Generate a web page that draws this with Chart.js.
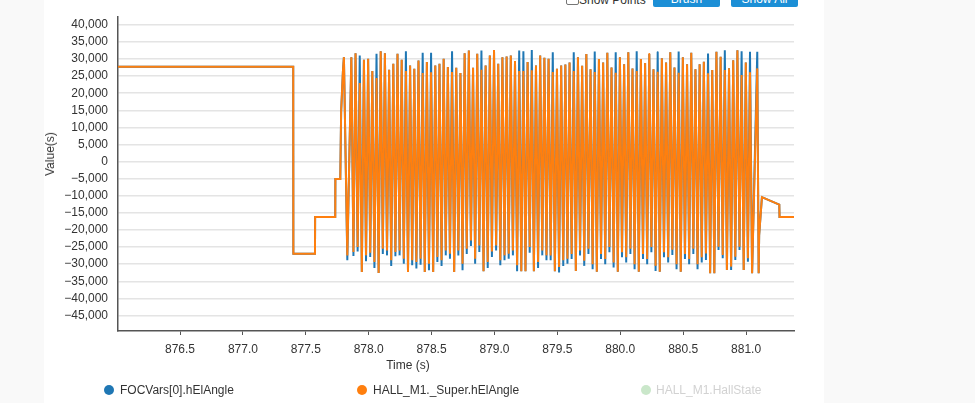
<!DOCTYPE html>
<html>
<head>
<meta charset="utf-8">
<script src="https://cdn.jsdelivr.net/npm/chart.js@4.4.0/dist/chart.umd.min.js"></script>
<style>
html,body{margin:0;padding:0;background:#f9f9f9;width:975px;height:403px;overflow:hidden;font-family:"Liberation Sans",Arial,sans-serif;}
#panel{position:absolute;left:44px;top:0;width:780px;height:403px;background:#fff;}
#chart{position:absolute;left:0;top:0;}
.btn{position:absolute;top:-8px;height:15px;line-height:15px;width:67px;background:#1c8fd6;color:#fff;font-size:12px;text-align:center;border-radius:2px;}
#cb{position:absolute;left:566px;top:-8px;width:11px;height:11px;border:1px solid #767676;border-radius:2px;background:#fff;}
#sp{position:absolute;left:579px;top:-6px;font-size:12px;line-height:12px;color:#333;}
.lg{position:absolute;font-size:12px;line-height:14px;color:#333;white-space:nowrap;}
.dot{position:absolute;width:10px;height:10px;border-radius:50%;}
#xt{position:absolute;font-size:12px;color:#333;left:408px;top:358px;transform:translateX(-50%);white-space:nowrap;}
#yt{position:absolute;font-size:12px;color:#333;left:50px;top:154px;transform:translate(-50%,-50%) rotate(-90deg);white-space:nowrap;}
</style>
</head>
<body>
<div id="panel"></div>
<div id="cb"></div><div id="sp">Show Points</div>
<div class="btn" style="left:653px">Brush</div>
<div class="btn" style="left:731px">Show All</div>
<canvas id="chart" width="975" height="403"></canvas>
<div id="xt">Time (s)</div>
<div id="yt">Value(s)</div>
<div class="dot" style="left:104px;top:385px;background:#1f77b4"></div>
<div class="lg" style="left:120px;top:383px">FOCVars[0].hElAngle</div>
<div class="dot" style="left:357px;top:385px;background:#ff7f0e"></div>
<div class="lg" style="left:373px;top:383px">HALL_M1._Super.hElAngle</div>
<div class="dot" style="left:641px;top:385px;background:#cae7ca"></div>
<div class="lg" style="left:656px;top:383px;color:#d2d2d2">HALL_M1.HallState</div>
<script>
// ---- tick labels ----
const xTicks = [876.5, 877.0, 877.5, 878.0, 878.5, 879.0, 879.5, 880.0, 880.5, 881.0];
const yTicks = [40000, 35000, 30000, 25000, 20000, 15000, 10000, 5000, 0, -5000, -10000, -15000, -20000, -25000, -30000, -35000, -40000, -45000];

// ---- series names ----
const seriesNames = ["FOCVars[0].hElAngle", "HALL_M1._Super.hElAngle", "HALL_M1.HallState"];

// ---- before the burst (both series identical) ----
const preTimes  = [876.000, 877.400, 877.401, 877.573, 877.574, 877.734, 877.735, 877.774, 877.781, 877.795];
const preValues = [27740, 27740, -26960, -26960, -16230, -16230, -5100, -5100, 14700, 26300];

// ---- burst: logger sample clock ----
const burstFirstPeak = 877.803;
const burstFirstTrough = 877.830;
const burstSecondPeak = 877.862;
const burstCycle = 0.03336;

// ---- burst peaks / troughs, read per cycle ----
const focPeaks = [30540,30540,31700,31020,29770,30060,26480,31510,32280,31700,
  26870,28610,31510,29770,32280,28130,27160,29570,31800,29090,
  31800,28130,28610,30060,27640,32280,27450,25900,31700,32470,
  27450,31510,32470,28130,31020,32670,28610,30540,30740,31020,
  29380,32470,32280,29090,32670,28130,31020,30350,30060,31990,
  27160,28130,28420,
  29000,32000,30500,28000,31500,27000,32200,30000,29000,31800,
  27500,32000,30500,28500,32000,27200,32300,30000,28800,31500,
  27000,32000,30200,29000,32000,27500,32200,30500,28500,31800,
  27000,28500,
  29190,31600,26770,32090,30640,32570,27260,29670,32570,32280,28990,32090];
const hallPeaks = [30540,30540,31700,23000,29770,30060,26480,24450,32280,31700,
  26870,28610,31510,29770,26480,28130,27160,29570,25900,29090,
  26100,28130,28610,30060,27640,26190,27450,25900,31700,32470,
  27450,31510,26870,28130,31020,32670,28610,30540,30740,31020,
  29380,26480,26480,29090,26680,28130,31020,30350,30060,26190,
  27160,28130,28420,
  29000,26500,30500,28000,31500,27000,26200,30000,29000,31800,
  27500,26000,30500,28500,32000,27200,26500,30000,28800,31500,
  27000,26300,30200,29000,32000,27500,26000,30500,28500,31800,
  27000,28500,
  29190,25810,26770,32090,30640,26770,27260,29670,32570,25320,28990,26100];
const focTroughs = [-28880,-27620,-26270,-32260,-29170,-27910,-31100,-32550,-27040,-27430,
  -30520,-27720,-27430,-29850,-32260,-30330,-31300,-30140,-32260,-31780,
  -32260,-29360,-30520,-27430,-28400,-32260,-27430,-31780,-27040,-24720,
  -29850,-26460,-32070,-31100,-27910,-25980,-30330,-28880,-28400,-27430,
  -32070,-32070,-32070,-26660,-32070,-31100,-27430,-28880,-28880,-32070,
  -32450,-30520,-29850,
  -28500,-32000,-27500,-30500,-27000,-31500,-32200,-28500,-30000,-26500,
  -31000,-32200,-28000,-29500,-27000,-31500,-32200,-28500,-30000,-26500,
  -32000,-32200,-28000,-29500,-27300,-31500,-32200,-28500,-30000,-27000,
  -31500,-29500,
  -28780,-32650,-32650,-25880,-28300,-31680,-31680,-28780,-25880,-31680,-29270,-32650];
const hallTroughs = [-27430,-26460,-25010,-32260,-27430,-26660,-29360,-32550,-25500,-25980,
  -28880,-26460,-25980,-28400,-32260,-28880,-29360,-28400,-32260,-29850,
  -32260,-27910,-28880,-25980,-26950,-32260,-25980,-29850,-25500,-23080,
  -28400,-24530,-32070,-29360,-26270,-24530,-28880,-27430,-26950,-25980,
  -30330,-32070,-32070,-25010,-32070,-29360,-25980,-27430,-27430,-32070,
  -30810,-28880,-28400,
  -27000,-32000,-26000,-29000,-25500,-30000,-32200,-27000,-28500,-25000,
  -29500,-32200,-26500,-28000,-25500,-30000,-32200,-27000,-28500,-25000,
  -30500,-32200,-26500,-28000,-25800,-30000,-32200,-27000,-28500,-25500,
  -30000,-28000,
  -26850,-32650,-32650,-24920,-27330,-31680,-30720,-27820,-24920,-31680,-28300,-32650];

// ---- after the burst ----
const tailTimes = [881.089, 881.100, 881.104, 881.126, 881.264, 881.266, 881.400];
const focTail   = [32090, -32650, -21500, -10400, -12600, -16230, -16230];
const hallTail  = [27260, -32650, -21500, -10400, -12600, -16230, -16230];

function buildPoints(peaks, troughs, tail) {
  const pts = preTimes.map((t, i) => ({x: t, y: preValues[i]}));
  for (let k = 0; k < peaks.length; k++) {
    const tp = k === 0 ? burstFirstPeak : burstSecondPeak + (k - 1) * burstCycle;
    const tt = k === 0 ? burstFirstTrough : tp + burstCycle / 2;
    pts.push({x: tp, y: peaks[k]});
    pts.push({x: tt, y: troughs[k]});
  }
  tailTimes.forEach((t, i) => pts.push({x: t, y: tail[i]}));
  return pts;
}

function fmtNum(v) {
  const s = Math.abs(v).toLocaleString('en-US');
  return v < 0 ? '\u2212' + s : s;
}

Chart.defaults.font.family = '"Liberation Sans", Arial, sans-serif';
Chart.defaults.font.size = 12;
Chart.defaults.color = '#333';

new Chart(document.getElementById('chart'), {
  type: 'line',
  data: {
    datasets: [
      {label: seriesNames[1], data: buildPoints(hallPeaks, hallTroughs, hallTail), borderColor: '#ff7f0e', borderWidth: 2, pointRadius: 0, order: 0, clip: 0},
      {label: seriesNames[0], data: buildPoints(focPeaks, focTroughs, focTail), borderColor: '#1f77b4', borderWidth: 2, pointRadius: 0, order: 1, clip: 0}
    ]
  },
  options: {
    responsive: false,
    maintainAspectRatio: false,
    animation: false,
    parsing: false,
    layout: {padding: {left: 0, right: 181, top: 15, bottom: 0}},
    plugins: {legend: {display: false}, tooltip: {enabled: false}},
    elements: {line: {tension: 0.000001, capBezierPoints: false, borderJoinStyle: 'miter'}},
    scales: {
      x: {
        type: 'linear', min: 876.007, max: 881.381,
        afterBuildTicks: s => { s.ticks = xTicks.map(v => ({value: v})); },
        afterFit: s => { s.height = 72; },
        ticks: {callback: v => v.toFixed(1), padding: 7, maxRotation: 0, autoSkip: false, color: '#333'},
        grid: {drawOnChartArea: false, drawTicks: true, tickLength: 4, tickColor: '#555'},
        border: {color: '#555', width: 1.5}
      },
      y: {
        type: 'linear', min: -49550, max: 42230,
        afterBuildTicks: s => { s.ticks = yTicks.map(v => ({value: v})); },
        afterFit: s => { s.width = 118; },
        ticks: {callback: v => fmtNum(v), padding: 10, color: '#333'},
        grid: {drawTicks: false, color: '#e4e4e4', lineWidth: 1.5},
        border: {color: '#555', width: 1.5}
      }
    }
  }
});
</script>
</body>
</html>
